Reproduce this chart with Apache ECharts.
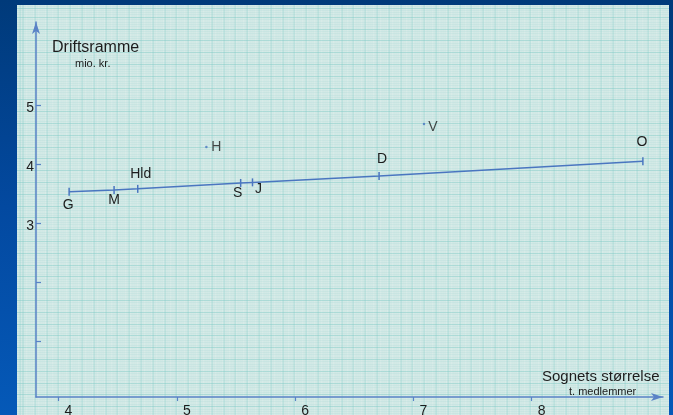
<!DOCTYPE html>
<html>
<head>
<meta charset="utf-8">
<script src="https://cdn.jsdelivr.net/npm/echarts@6/dist/echarts.min.js"></script>
<style>
  html, body { margin: 0; padding: 0; }
  body { width: 673px; height: 415px; overflow: hidden;
         background: linear-gradient(180deg, #003a7a 0%, #0349a0 50%, #0559b8 100%); position: relative; }
  #paper { position: absolute; left: 17px; top: 5px; width: 652px; height: 410px;
    background-color: #d8ebe8;
    background-image:
      repeating-linear-gradient(90deg, rgba(120,200,195,0.36) 0 1px, transparent 1px 11.8px),
      repeating-linear-gradient(0deg, rgba(120,200,195,0.36) 0 1px, transparent 1px 11.8px),
      repeating-linear-gradient(90deg, rgba(160,212,208,0.2) 0 1px, transparent 1px 2.36px),
      repeating-linear-gradient(0deg, rgba(160,212,208,0.2) 0 1px, transparent 1px 2.36px);
    background-position: 5.6px 0, 0 4px, 5.6px 0, 0 4px; }
  #chart { position: absolute; left: 0; top: 0; width: 673px; height: 415px; }
</style>
</head>
<body>
<div id="paper"></div>
<div id="chart"></div>
<script>
// Data
var lineNames = ['G', 'M', 'Hld', 'S', 'J', 'D', 'O'];
var lineX = [4.09, 4.47, 4.67, 5.54, 5.64, 6.71, 8.94];
var lineY = [3.53, 3.56, 3.58, 3.68, 3.69, 3.80, 4.05];
var pointNames = ['H', 'V'];
var pointX = [5.25, 7.09];
var pointY = [4.29, 4.68];
var xTicks = [4, 5, 6, 7, 8];
var yTicks = [1, 2, 3, 4, 5];
var yLabels = [3, 4, 5];

// label placement (style only)
var labelOffsets = {
  G: [-1, 13], M: [0, 10], Hld: [3, -15], S: [-3, 10], J: [6, 7],
  D: [3, -17], O: [-1, -19], H: [10, 0], V: [9, 3]
};

var axisColor = '#5a82c6';
var textColor = '#1c1c1c';
var font = 'Liberation Sans, Arial, sans-serif';

function buildData(names, xs, ys) {
  return names.map(function (n, i) {
    return {
      name: n,
      value: [xs[i], ys[i]],
      label: { offset: labelOffsets[n] }
    };
  });
}

var chart = echarts.init(document.getElementById('chart'), null, { renderer: 'canvas' });
chart.setOption({
  backgroundColor: 'transparent',
  animation: false,
  textStyle: { fontFamily: font },
  grid: { left: 36, right: 10, top: 22, bottom: 18, containLabel: false, outerBoundsMode: 'none' },
  title: [
    { text: 'Driftsramme', left: 52, top: 40, padding: 0,
      textStyle: { fontSize: 16, fontWeight: 'normal', color: textColor, fontFamily: font } },
    { text: 'mio. kr.', left: 75, top: 58, padding: 0,
      textStyle: { fontSize: 11, fontWeight: 'normal', color: textColor, fontFamily: font } },
    { text: 'Sognets størrelse', left: 542, top: 369, padding: 0,
      textStyle: { fontSize: 15, fontWeight: 'normal', color: textColor, fontFamily: font } },
    { text: 't. medlemmer', left: 569, top: 386, padding: 0,
      textStyle: { fontSize: 11, fontWeight: 'normal', color: textColor, fontFamily: font } }
  ],
  xAxis: {
    type: 'value', min: 3.81, max: 9.11,
    axisLine: { show: true, lineStyle: { color: axisColor, width: 1.5 },
                symbol: ['none', 'arrow'], symbolSize: [6, 12] },
    axisTick: { show: true, customValues: xTicks, length: 4, inside: false,
                lineStyle: { color: axisColor, width: 1.2 } },
    axisLabel: { customValues: xTicks, color: textColor, fontSize: 14, margin: 7,
                 padding: [0, 0, 0, 20], align: 'center' },
    splitLine: { show: false }
  },
  yAxis: {
    type: 'value', min: 0.05, max: 6.41,
    axisLine: { show: true, lineStyle: { color: axisColor, width: 1.5 },
                symbol: ['none', 'arrow'], symbolSize: [6, 12] },
    axisTick: { show: true, customValues: yTicks, length: 5, inside: true,
                lineStyle: { color: axisColor, width: 1.2 } },
    axisLabel: { customValues: yLabels, color: textColor, fontSize: 14, margin: 2,
                 verticalAlign: 'top', lineHeight: 6 },
    splitLine: { show: false }
  },
  series: [
    {
      type: 'line',
      data: buildData(lineNames, lineX, lineY),
      lineStyle: { color: '#4a76c0', width: 1.5 },
      itemStyle: { color: '#4a76c0' },
      symbol: 'rect', symbolSize: [1.5, 8],
      label: { show: true, position: 'inside', formatter: '{b}',
               color: textColor, fontSize: 14 }
    },
    {
      type: 'scatter',
      data: buildData(pointNames, pointX, pointY),
      symbol: 'circle', symbolSize: 2.5,
      itemStyle: { color: '#4a76c0' },
      label: { show: true, position: 'inside', formatter: '{b}',
               color: textColor, fontSize: 14 }
    }
  ]
});
</script>
</body>
</html>
